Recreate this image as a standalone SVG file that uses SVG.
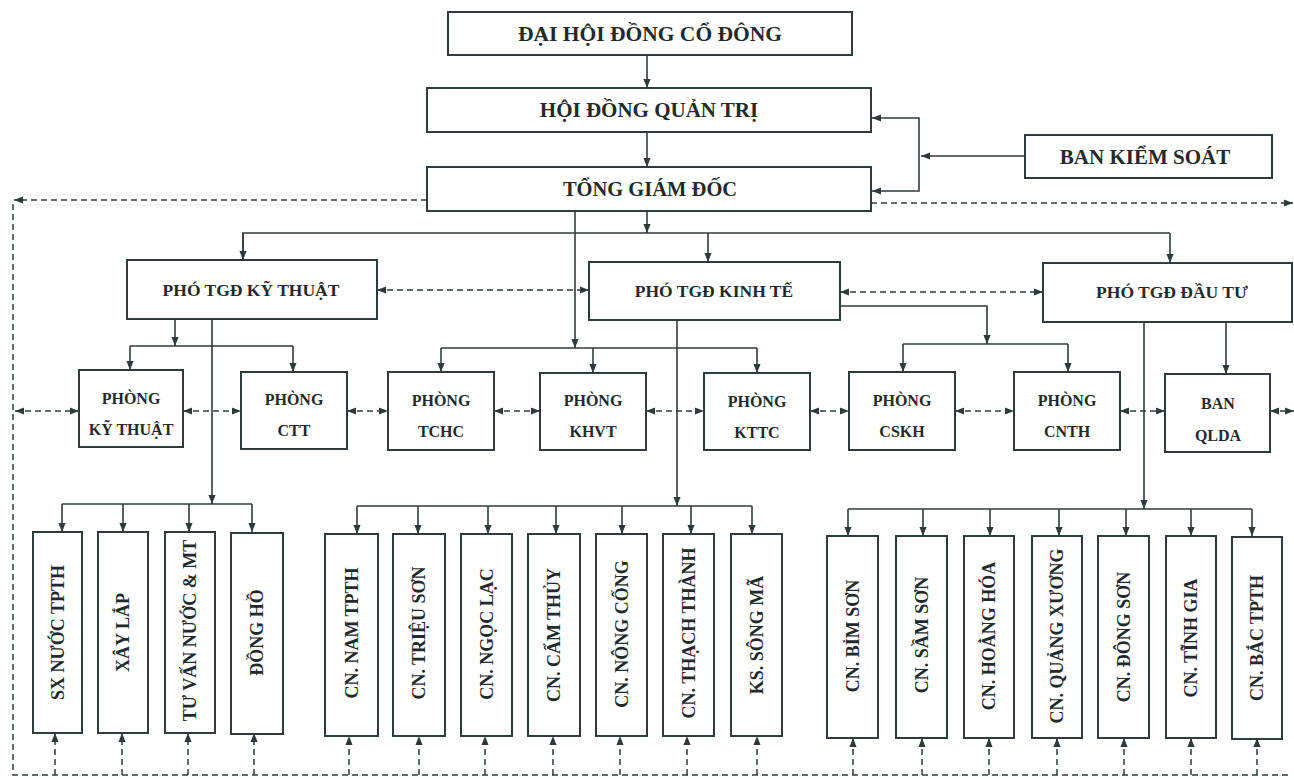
<svg xmlns="http://www.w3.org/2000/svg" width="1294" height="780" viewBox="0 0 1294 780">
<style>
.box{fill:#fff;stroke:#2e3b3d;stroke-width:2}
.t{font-family:"Liberation Serif","Times New Roman",serif;font-weight:bold;fill:#1f2a2c;text-anchor:middle}
.t1{font-size:21px}
.t2{font-size:17.5px}
.t3{font-size:16px}
.t4{font-size:18px}
.ln{fill:none;stroke:#2e3b3d;stroke-width:1.6}
.ar{marker-end:url(#ah)}
.ds{fill:none;stroke:#2e3b3d;stroke-width:1.5;stroke-dasharray:6 4}
.bi{marker-start:url(#ah);marker-end:url(#ah)}
</style>
<defs>
<marker id="ah" viewBox="0 0 10 10" refX="10" refY="5" markerWidth="9" markerHeight="9" markerUnits="userSpaceOnUse" orient="auto-start-reverse">
<path d="M0,1 L10,5 L0,9 z" fill="#2e3b3d"/>
</marker>
</defs>
<rect width="1294" height="780" fill="#fff"/>

<g id="connectors">
<line class="ln ar" x1="647" y1="55" x2="647" y2="88"/>
<line class="ln ar" x1="647" y1="132" x2="647" y2="167"/>
<line class="ln ar" x1="1025" y1="156" x2="921" y2="156"/>
<polyline class="ln" style="marker-start:url(#ah);marker-end:url(#ah)" points="872,118 919,118 919,191 872,191"/>
<line class="ln ar" x1="647" y1="211" x2="647" y2="233"/>
<polyline class="ln" points="243,260 243,233 1170,233"/>
<line class="ln ar" x1="243" y1="233" x2="243" y2="260"/>
<line class="ln ar" x1="708" y1="233" x2="708" y2="262"/>
<line class="ln ar" x1="1170" y1="233" x2="1170" y2="263"/>
<line class="ln ar" x1="575" y1="211" x2="575" y2="348"/>
<line class="ln" x1="441" y1="348" x2="757" y2="348"/>
<line class="ln ar" x1="441" y1="348" x2="441" y2="372"/>
<line class="ln ar" x1="593" y1="348" x2="593" y2="373"/>
<line class="ln ar" x1="757" y1="348" x2="757" y2="373"/>
<line class="ln ar" x1="175" y1="319" x2="175" y2="346"/>
<line class="ln" x1="130" y1="346" x2="293" y2="346"/>
<line class="ln ar" x1="130" y1="346" x2="130" y2="370"/>
<line class="ln ar" x1="293" y1="346" x2="293" y2="372"/>
<polyline class="ln ar" points="840,306 987,306 987,344"/>
<line class="ln" x1="903" y1="344" x2="1068" y2="344"/>
<line class="ln ar" x1="903" y1="344" x2="903" y2="372"/>
<line class="ln ar" x1="1068" y1="344" x2="1068" y2="372"/>
<line class="ln ar" x1="1226" y1="322" x2="1226" y2="374"/>
<line class="ln ar" x1="212" y1="319" x2="212" y2="504"/>
<line class="ln" x1="62" y1="504" x2="252" y2="504"/>
<line class="ln ar" x1="62" y1="504" x2="62" y2="532"/>
<line class="ln ar" x1="123" y1="504" x2="123" y2="532"/>
<line class="ln ar" x1="189" y1="504" x2="189" y2="532"/>
<line class="ln ar" x1="252" y1="504" x2="252" y2="532"/>
<line class="ln ar" x1="677" y1="320" x2="677" y2="506"/>
<line class="ln" x1="357" y1="506" x2="752" y2="506"/>
<line class="ln ar" x1="357" y1="506" x2="357" y2="534"/>
<line class="ln ar" x1="418" y1="506" x2="418" y2="534"/>
<line class="ln ar" x1="488" y1="506" x2="488" y2="534"/>
<line class="ln ar" x1="556" y1="506" x2="556" y2="534"/>
<line class="ln ar" x1="622" y1="506" x2="622" y2="534"/>
<line class="ln ar" x1="691" y1="506" x2="691" y2="534"/>
<line class="ln ar" x1="752" y1="506" x2="752" y2="534"/>
<line class="ln ar" x1="1144" y1="322" x2="1144" y2="509"/>
<line class="ln" x1="848" y1="509" x2="1252" y2="509"/>
<line class="ln ar" x1="848" y1="509" x2="848" y2="536"/>
<line class="ln ar" x1="923" y1="509" x2="923" y2="536"/>
<line class="ln ar" x1="990" y1="509" x2="990" y2="536"/>
<line class="ln ar" x1="1059" y1="509" x2="1059" y2="536"/>
<line class="ln ar" x1="1126" y1="509" x2="1126" y2="536"/>
<line class="ln ar" x1="1191" y1="509" x2="1191" y2="536"/>
<line class="ln ar" x1="1252" y1="509" x2="1252" y2="536"/>
<!-- dashed -->
<line class="ds ar" x1="427" y1="200" x2="14" y2="200"/>
<line class="ds ar" x1="871" y1="203" x2="1293" y2="203"/>
<polyline class="ds" points="13,204 13,775 1290,775"/>
<line class="ds bi" x1="377" y1="290" x2="589" y2="290"/>
<line class="ds bi" x1="840" y1="292" x2="1043" y2="292"/>
<line class="ds bi" x1="15" y1="411" x2="79" y2="411"/>
<line class="ds bi" x1="183" y1="411" x2="241" y2="411"/>
<line class="ds bi" x1="347" y1="411" x2="388" y2="411"/>
<line class="ds bi" x1="494" y1="411" x2="540" y2="411"/>
<line class="ds bi" x1="646" y1="411" x2="704" y2="411"/>
<line class="ds bi" x1="810" y1="411" x2="849" y2="411"/>
<line class="ds bi" x1="955" y1="411" x2="1014" y2="411"/>
<line class="ds bi" x1="1120" y1="411" x2="1165" y2="411"/>
<line class="ds bi" x1="1270" y1="411" x2="1294" y2="411"/>
<line class="ds ar" x1="55" y1="775" x2="55" y2="733"/>
<line class="ds ar" x1="122" y1="775" x2="122" y2="733"/>
<line class="ds ar" x1="188" y1="775" x2="188" y2="733"/>
<line class="ds ar" x1="254" y1="775" x2="254" y2="733"/>
<line class="ds ar" x1="349" y1="775" x2="349" y2="736"/>
<line class="ds ar" x1="419" y1="775" x2="419" y2="736"/>
<line class="ds ar" x1="485" y1="775" x2="485" y2="736"/>
<line class="ds ar" x1="553" y1="775" x2="553" y2="736"/>
<line class="ds ar" x1="620" y1="775" x2="620" y2="736"/>
<line class="ds ar" x1="687" y1="775" x2="687" y2="736"/>
<line class="ds ar" x1="757" y1="775" x2="757" y2="736"/>
<line class="ds ar" x1="853" y1="775" x2="853" y2="738"/>
<line class="ds ar" x1="922" y1="775" x2="922" y2="738"/>
<line class="ds ar" x1="989" y1="775" x2="989" y2="738"/>
<line class="ds ar" x1="1057" y1="775" x2="1057" y2="738"/>
<line class="ds ar" x1="1124" y1="775" x2="1124" y2="738"/>
<line class="ds ar" x1="1191" y1="775" x2="1191" y2="738"/>
<line class="ds ar" x1="1257" y1="775" x2="1257" y2="738"/>
</g>

<g id="dhdcd"><rect class="box" x="448" y="12" width="404" height="43"/><text class="t t1" x="650" y="41" style="font-size:21.5px">ĐẠI HỘI ĐỒNG CỔ ĐÔNG</text></g>
<g id="hdqt"><rect class="box" x="427" y="88" width="444" height="44"/><text class="t t1" x="649" y="117">HỘI ĐỒNG QUẢN TRỊ</text></g>
<g id="tgd"><rect class="box" x="427" y="167" width="444" height="44"/><text class="t t1" x="650" y="196" style="font-size:20.5px">TỔNG GIÁM ĐỐC</text></g>
<g id="bks"><rect class="box" x="1025" y="135" width="247" height="43"/><text class="t t1" x="1145" y="164">BAN KIỂM SOÁT</text></g>

<g id="pho-kt"><rect class="box" x="127" y="260" width="250" height="59"/><text class="t t2" x="251" y="296">PHÓ TGĐ KỸ THUẬT</text></g>
<g id="pho-kte"><rect class="box" x="589" y="262" width="251" height="58"/><text class="t t2" x="714" y="297">PHÓ TGĐ KINH TẾ</text></g>
<g id="pho-dt"><rect class="box" x="1043" y="263" width="249" height="59"/><text class="t t2" x="1172" y="298">PHÓ TGĐ ĐẦU TƯ</text></g>

<g id="p-kythuat"><rect class="box" x="79" y="370" width="104" height="77"/><text class="t t3" x="131" y="404">PHÒNG</text><text class="t t3" x="131" y="435">KỸ THUẬT</text></g>
<g id="p-ctt"><rect class="box" x="241" y="372" width="106" height="77"/><text class="t t3" x="294" y="405">PHÒNG</text><text class="t t3" x="294" y="436">CTT</text></g>
<g id="p-tchc"><rect class="box" x="388" y="372" width="106" height="78"/><text class="t t3" x="441" y="406">PHÒNG</text><text class="t t3" x="441" y="437">TCHC</text></g>
<g id="p-khvt"><rect class="box" x="540" y="373" width="106" height="77"/><text class="t t3" x="593" y="406">PHÒNG</text><text class="t t3" x="593" y="437">KHVT</text></g>
<g id="p-kttc"><rect class="box" x="704" y="373" width="106" height="77"/><text class="t t3" x="757" y="407">PHÒNG</text><text class="t t3" x="757" y="438">KTTC</text></g>
<g id="p-cskh"><rect class="box" x="849" y="372" width="106" height="78"/><text class="t t3" x="902" y="406">PHÒNG</text><text class="t t3" x="902" y="437">CSKH</text></g>
<g id="p-cnth"><rect class="box" x="1014" y="372" width="106" height="78"/><text class="t t3" x="1067" y="406">PHÒNG</text><text class="t t3" x="1067" y="437">CNTH</text></g>
<g id="b-qlda"><rect class="box" x="1165" y="374" width="105" height="78"/><text class="t t3" x="1218" y="409">BAN</text><text class="t t3" x="1218" y="441">QLDA</text></g>

<g id="sx"><rect class="box" x="33" y="532" width="49" height="201"/><text class="t t4" transform="translate(57.5,632.5) rotate(-90)" y="6">SX NƯỚC TPTH</text></g>
<g id="xaylap"><rect class="box" x="98" y="532" width="50" height="201"/><text class="t t4" transform="translate(123,632.5) rotate(-90)" y="6">XÂY LẮP</text></g>
<g id="tuvan"><rect class="box" x="165" y="532" width="50" height="201"/><text class="t t4" transform="translate(190,630.5) rotate(-90)" y="6">TƯ VẤN NƯỚC &amp; MT</text></g>
<g id="dongho"><rect class="box" x="231" y="533" width="52" height="201"/><text class="t t4" transform="translate(257,632.5) rotate(-90)" y="6">ĐỒNG HỒ</text></g>

<g id="cn-nam"><rect class="box" x="325" y="534" width="53" height="202"/><text class="t t4" transform="translate(351.5,633) rotate(-90)" y="6">CN. NAM TPTH</text></g>
<g id="cn-trieuson"><rect class="box" x="393" y="534" width="52" height="202"/><text class="t t4" transform="translate(419,633) rotate(-90)" y="6">CN. TRIỆU SƠN</text></g>
<g id="cn-ngoclac"><rect class="box" x="461" y="534" width="51" height="202"/><text class="t t4" transform="translate(486.5,634) rotate(-90)" y="6">CN. NGỌC LẠC</text></g>
<g id="cn-camthuy"><rect class="box" x="528" y="534" width="52" height="202"/><text class="t t4" transform="translate(554,635) rotate(-90)" y="6">CN. CẨM THỦY</text></g>
<g id="cn-nongcong"><rect class="box" x="596" y="534" width="51" height="202"/><text class="t t4" transform="translate(621.5,634) rotate(-90)" y="6">CN. NÔNG CỐNG</text></g>
<g id="cn-thachthanh"><rect class="box" x="663" y="534" width="51" height="202"/><text class="t t4" transform="translate(688.5,633) rotate(-90)" y="6">CN. THẠCH THÀNH</text></g>
<g id="ks-songma"><rect class="box" x="731" y="534" width="51" height="202"/><text class="t t4" transform="translate(756.5,635) rotate(-90)" y="6">KS. SÔNG MÃ</text></g>

<g id="cn-bimson"><rect class="box" x="827" y="536" width="51" height="202"/><text class="t t4" transform="translate(852.5,636) rotate(-90)" y="6">CN. BỈM SƠN</text></g>
<g id="cn-samson"><rect class="box" x="896" y="536" width="51" height="202"/><text class="t t4" transform="translate(921.5,635) rotate(-90)" y="6">CN. SẦM SƠN</text></g>
<g id="cn-hoanghoa"><rect class="box" x="964" y="536" width="50" height="202"/><text class="t t4" transform="translate(989,636) rotate(-90)" y="6">CN. HOẰNG HÓA</text></g>
<g id="cn-quangxuong"><rect class="box" x="1032" y="536" width="50" height="202"/><text class="t t4" transform="translate(1057,636) rotate(-90)" y="6">CN. QUẢNG XƯƠNG</text></g>
<g id="cn-dongson"><rect class="box" x="1098" y="536" width="51" height="202"/><text class="t t4" transform="translate(1123.5,637) rotate(-90)" y="6">CN. ĐÔNG SƠN</text></g>
<g id="cn-tinhgia"><rect class="box" x="1166" y="536" width="50" height="202"/><text class="t t4" transform="translate(1191,638) rotate(-90)" y="6">CN. TĨNH GIA</text></g>
<g id="cn-bactpth"><rect class="box" x="1232" y="537" width="50" height="202"/><text class="t t4" transform="translate(1257,638) rotate(-90)" y="6">CN. BẮC TPTH</text></g>
</svg>
